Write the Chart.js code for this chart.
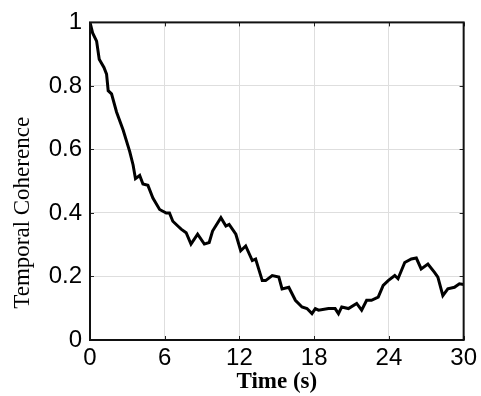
<!DOCTYPE html>
<html lang="en">
<head>
    <meta charset="UTF-8">
    <title>Temporal Coherence</title>
    <style>
        html, body { margin: 0; padding: 0; background: #fff; }
        #wrap { width: 481px; height: 396px; }
    </style>
</head>
<body>
    <div id="wrap"><canvas id="myChart" width="481" height="396"></canvas></div>

    <script src="https://cdn.jsdelivr.net/npm/chart.js"></script>
    <script>
        // valeurs
        const timeS = [0, 0.21, 0.53, 0.74, 1.12, 1.33, 1.46, 1.73, 2.13, 2.66, 3.19, 3.46, 3.65, 3.99, 4.25, 4.65,
            5.05, 5.59, 6.12, 6.38, 6.65, 7.05, 7.32, 7.72, 8.11, 8.64, 9.18, 9.57, 9.84, 10.51, 10.91, 11.17,
            11.71, 12.10, 12.50, 13.03, 13.30, 13.83, 14.10, 14.63, 15.16, 15.42, 15.96, 16.49, 17.02, 17.42,
            17.82, 18.09, 18.35, 19.15, 19.68, 19.95, 20.21, 20.75, 21.41, 21.81, 22.21, 22.60, 23.14, 23.54,
            23.94, 24.47, 24.73, 25.27, 25.80, 26.20, 26.59, 27.13, 27.66, 27.93, 28.33, 28.73, 29.26, 29.66, 30];
        const coherence = [1.0, 0.967, 0.941, 0.884, 0.858, 0.837, 0.785, 0.775, 0.718, 0.661, 0.593, 0.551, 0.508, 0.518, 0.491, 0.487,
            0.447, 0.411, 0.400, 0.400, 0.374, 0.359, 0.349, 0.338, 0.302, 0.333, 0.302, 0.307, 0.343, 0.385, 0.359, 0.364,
            0.333, 0.281, 0.296, 0.250, 0.255, 0.187, 0.187, 0.203, 0.198, 0.161, 0.166, 0.125, 0.104, 0.099,
            0.083, 0.099, 0.094, 0.099, 0.099, 0.083, 0.104, 0.099, 0.115, 0.094, 0.125, 0.125, 0.135, 0.172,
            0.187, 0.203, 0.193, 0.244, 0.255, 0.258, 0.224, 0.239, 0.213, 0.198, 0.140, 0.161, 0.166, 0.177, 0.175];
        const xTicks = [0, 6, 12, 18, 24, 30];
        const yTicks = [0, 0.2, 0.4, 0.6, 0.8, 1];

        // cadre + petites graduations internes (style matlab)
        const boxPlugin = {
            id: 'box',
            afterDraw(chart) {
                const { ctx, chartArea: a, scales } = chart;
                ctx.save();
                ctx.strokeStyle = '#222';
                ctx.lineWidth = 1;
                xTicks.forEach(v => {
                    const px = Math.round(scales.x.getPixelForValue(v)) + 0.5;
                    ctx.beginPath();
                    ctx.moveTo(px, a.bottom); ctx.lineTo(px, a.bottom - 4);
                    ctx.moveTo(px, a.top); ctx.lineTo(px, a.top + 4);
                    ctx.stroke();
                });
                yTicks.forEach(v => {
                    const py = Math.round(scales.y.getPixelForValue(v)) + 0.5;
                    ctx.beginPath();
                    ctx.moveTo(a.left, py); ctx.lineTo(a.left + 4, py);
                    ctx.moveTo(a.right, py); ctx.lineTo(a.right - 4, py);
                    ctx.stroke();
                });
                ctx.strokeStyle = '#111';
                ctx.lineWidth = 2;
                ctx.strokeRect(a.left, a.top, a.right - a.left, a.bottom - a.top);
                ctx.restore();
            }
        };

        const ctx = document.getElementById('myChart').getContext('2d');
        const myChart = new Chart(ctx, {
            type: 'line',
            data: {
                datasets: [{
                    data: timeS.map((t, i) => ({ x: t, y: coherence[i] })),
                    borderColor: '#000',
                    borderWidth: 3,
                    pointRadius: 0,
                    tension: 0,
                    fill: false
                }]
            },
            options: {
                responsive: false,
                animation: false,
                layout: { padding: { top: 19, right: 15, left: 0, bottom: 0 } },
                plugins: { legend: { display: false }, tooltip: { enabled: false } },
                scales: {
                    x: {
                        type: 'linear',
                        min: 0,
                        max: 30,
                        afterFit: s => { s.height = 56; },
                        afterBuildTicks: s => { s.ticks = xTicks.map(v => ({ value: v })); },
                        grid: { color: '#dedede', lineWidth: 1, drawTicks: false },
                        border: { display: false },
                        ticks: {
                            color: '#000',
                            padding: 4,
                            font: { family: 'Liberation Sans, Arial', size: 24 },
                            callback: v => String(v)
                        },
                        title: {
                            display: true,
                            text: 'Time (s)',
                            color: '#000',
                            padding: { top: 0, bottom: 0 },
                            font: { family: 'Liberation Serif, Times New Roman', size: 23, weight: 'bold' }
                        }
                    },
                    y: {
                        min: 0,
                        max: 1,
                        afterFit: s => { s.width = 90; },
                        afterBuildTicks: s => { s.ticks = yTicks.map(v => ({ value: v })); },
                        grid: { color: '#dedede', lineWidth: 1, drawTicks: false },
                        border: { display: false },
                        ticks: {
                            color: '#000',
                            padding: 8,
                            font: { family: 'Liberation Sans, Arial', size: 24 },
                            callback: v => String(v)
                        },
                        title: {
                            display: true,
                            // espaces en fin pour descendre le titre comme sur la figure
                            text: 'Temporal Coherence' + '\u00a0'.repeat(11),
                            color: '#000',
                            padding: { top: 9, bottom: 0 },
                            font: { family: 'Liberation Serif, Times New Roman', size: 23 }
                        }
                    }
                }
            },
            plugins: [boxPlugin]
        });
    </script>
</body>
</html>
